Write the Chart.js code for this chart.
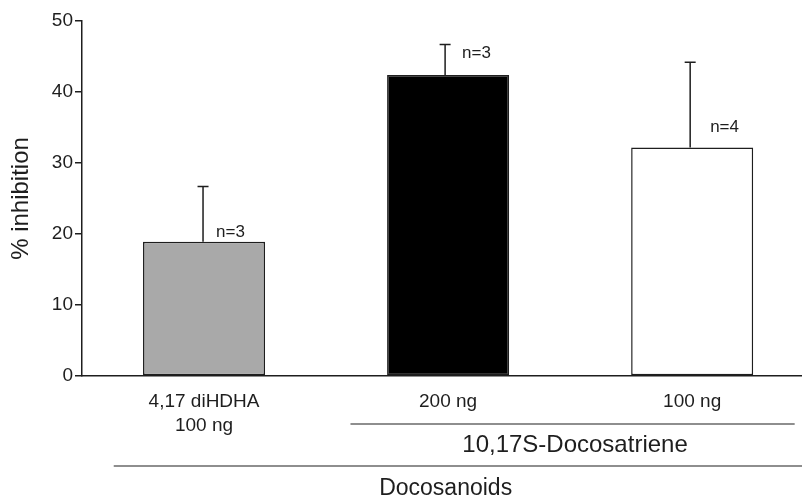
<!DOCTYPE html>
<html>
<head>
<meta charset="utf-8">
<script src="https://cdn.jsdelivr.net/npm/chart.js@4.4.0/dist/chart.umd.min.js"></script>
<style>
  html, body { margin: 0; padding: 0; background: #fff; }
  #wrap { width: 802px; height: 498px; }
</style>
</head>
<body>
<div id="wrap"><canvas id="inhibition-chart"></canvas></div>
<script>
// values
const categories = [['4,17 diHDHA', '100 ng'], '200 ng', '100 ng']
const values = [18.9, 42.4, 32.2]
const errors = [7.8, 4.3, 12.0]
const nLabels = ['n=3', 'n=3', 'n=4']
const yTicks = [0, 10, 20, 30, 40, 50]
const groups = ['10,17S-Docosatriene', 'Docosanoids']

const FONT = "'Liberation Sans', Arial, sans-serif"
const INK = '#1e1e1e'

const barColors = ['#a9a9a9', '#000000', '#ffffff']

// error bars, n= labels and the group brackets under the axis
const extras = {
    id: 'extras',
    afterDatasetsDraw(chart, args, opts) {
        const ctx = chart.ctx
        const xs = chart.scales.x
        const ys = chart.scales.y
        const meta = chart.getDatasetMeta(0)
        ctx.save()
        ctx.strokeStyle = INK
        ctx.fillStyle = INK
        ctx.lineWidth = 1.5
        meta.data.forEach((bar, i) => {
            const x = bar.x - opts.errShift[i]
            const top = ys.getPixelForValue(values[i] + errors[i])
            ctx.beginPath()
            ctx.moveTo(x, bar.y)
            ctx.lineTo(x, top)
            ctx.moveTo(x - 5.5, top)
            ctx.lineTo(x + 5.5, top)
            ctx.stroke()

            ctx.font = '17px ' + FONT
            ctx.textAlign = 'left'
            ctx.textBaseline = 'alphabetic'
            ctx.fillText(nLabels[i], x + opts.nOffsets[i][0], bar.y + opts.nOffsets[i][1])
        })

        // brackets
        opts.brackets.forEach((b, i) => {
            const x1 = xs.getPixelForValue(b.from)
            const x2 = Math.min(xs.getPixelForValue(b.to), chart.width)
            ctx.lineWidth = 1.2
            ctx.beginPath()
            ctx.moveTo(x1, b.y)
            ctx.lineTo(x2, b.y)
            ctx.stroke()
            ctx.font = b.size + 'px ' + FONT
            ctx.textAlign = 'center'
            ctx.fillText(groups[i], xs.getPixelForValue(b.mid), b.y + b.dy)
        })
        ctx.restore()
    }
}

const ctx = document.getElementById('inhibition-chart')

new Chart(ctx, {
    type: 'bar',
    data: {
        datasets: [{
            data: values.map((v, i) => ({ x: i, y: v })),
            backgroundColor: barColors,
            borderColor: INK,
            borderWidth: 1.5,
            borderSkipped: false,
            barPercentage: 0.5,
            categoryPercentage: 1.0,
        }]
    },
    options: {
        responsive: true,
        maintainAspectRatio: false,
        animation: false,
        layout: {
            padding: { top: 21, right: 0, left: 0, bottom: 0 }
        },
        scales: {
            x: {
                type: 'linear',
                min: -0.5,
                max: 2.45,
                offset: false,
                afterBuildTicks: (scale) => {
                    scale.ticks = categories.map((c, i) => ({ value: i }))
                },
                afterFit: (scale) => { scale.height = 122 },
                grid: { display: false, drawTicks: false, offset: false },
                border: { display: true, color: INK, width: 1.5 },
                ticks: {
                    autoSkip: false,
                    maxRotation: 0,
                    padding: 13,
                    color: INK,
                    font: { family: FONT, size: 19, lineHeight: 1.3 },
                    callback: (v) => categories[v]
                }
            },
            y: {
                min: 0,
                max: 50,
                afterBuildTicks: (scale) => {
                    scale.ticks = yTicks.map(v => ({ value: v }))
                },
                afterFit: (scale) => { scale.width = 82 },
                grid: { drawOnChartArea: false, drawTicks: true, tickLength: 7, color: INK, lineWidth: 1.5 },
                border: { display: true, color: INK, width: 1.5 },
                ticks: {
                    padding: 2,
                    color: INK,
                    font: { family: FONT, size: 19 }
                },
                title: {
                    display: true,
                    text: '% inhibition',
                    color: INK,
                    font: { family: FONT, size: 24 },
                    padding: { top: 7, bottom: 0 }
                }
            }
        },
        plugins: {
            legend: { display: false },
            tooltip: { enabled: false },
            extras: {
                errShift: [1, 3, 2],
                nOffsets: [[13, -5], [17, -17], [20, -15]],
                brackets: [
                    { from: 0.6, to: 2.42, mid: 1.52, y: 424, dy: 28, size: 24 },
                    { from: -0.37, to: 2.45, mid: 0.99, y: 466, dy: 29, size: 23 }
                ]
            }
        }
    },
    plugins: [extras]
})
</script>
</body>
</html>
